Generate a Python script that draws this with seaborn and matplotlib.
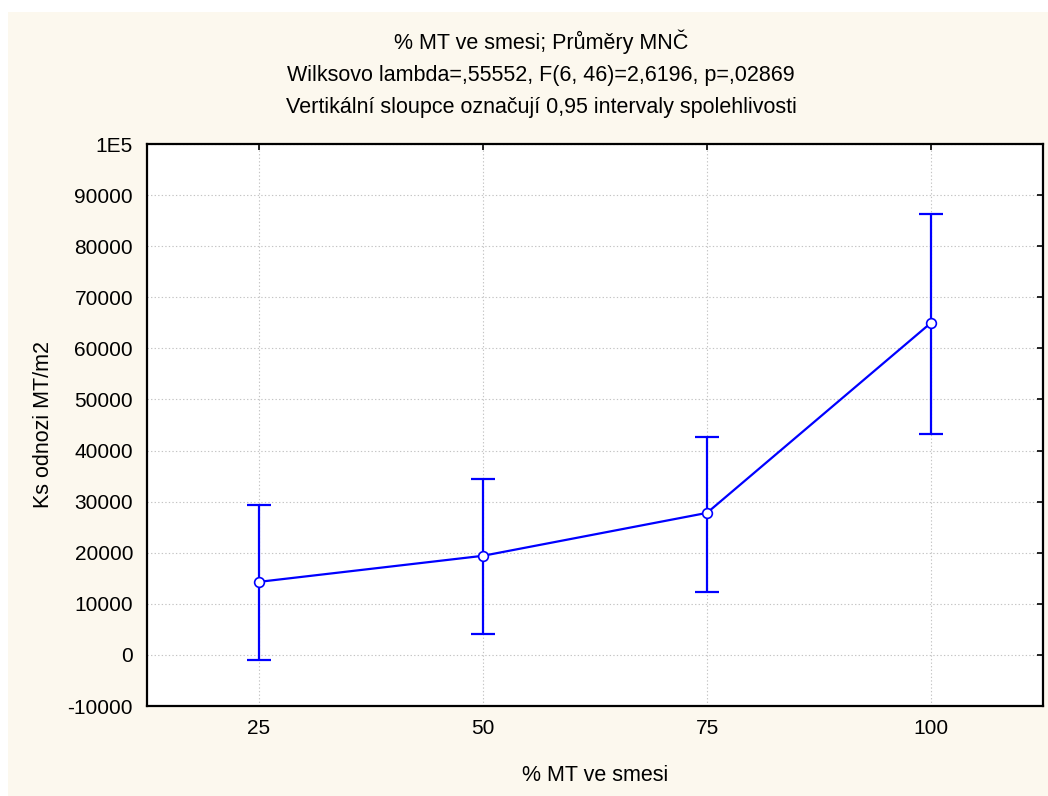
import matplotlib
matplotlib.use("Agg")
import matplotlib.pyplot as plt
import seaborn as sns
import pandas as pd
from matplotlib.patches import Rectangle

# Data
mt_pct = [25, 50, 75, 100]
means = [14300, 19400, 27800, 65000]
ci_lower = [-1000, 4100, 12300, 43300]
ci_upper = [29400, 34400, 42700, 86300]
y_ticks = [-10000, 0, 10000, 20000, 30000, 40000, 50000, 60000, 70000, 80000, 90000, 100000]
y_tick_labels = ["-10000", "0", "10000", "20000", "30000", "40000", "50000",
                 "60000", "70000", "80000", "90000", "1E5"]
title_lines = ["% MT ve smesi; Průměry MNČ",
               "Wilksovo lambda=,55552, F(6, 46)=2,6196, p=,02869",
               "Vertikální sloupce označují 0,95 intervaly spolehlivosti"]

sns.set_style("white")
plt.rcParams['font.family'] = ['Liberation Sans', 'DejaVu Sans']
plt.rcParams['text.color'] = 'black'
plt.rcParams['axes.labelcolor'] = 'black'

df = pd.DataFrame({"x": mt_pct, "y": means})

fig = plt.figure(figsize=(10.48, 7.96), dpi=100, facecolor="white")
fig.patches.append(Rectangle((8 / 1048, 0), 1 - 8 / 1048, (796 - 12) / 796,
                             transform=fig.transFigure, facecolor="#FCF8EE",
                             edgecolor="none", zorder=-10))
ax = fig.add_axes([147 / 1048, (796 - 706) / 796, (1043 - 147) / 1048, (706 - 144) / 796])
ax.set_facecolor("white")

yerr = [[m - l for m, l in zip(means, ci_lower)], [u - m for m, u in zip(means, ci_upper)]]
ax.errorbar(mt_pct, means, yerr=yerr, fmt="none", ecolor="#0000FF", elinewidth=1.6,
            capsize=8.5, capthick=1.6, zorder=3)
sns.lineplot(data=df, x="x", y="y", ax=ax, color="#0000FF", linewidth=1.6,
             marker="o", markersize=7, markerfacecolor="white",
             markeredgecolor="#0000FF", markeredgewidth=1.2, zorder=4)

ax.set_xlim(12.5, 112.5)
ax.set_ylim(-10000, 100000)
ax.set_xticks(mt_pct)
ax.set_xticklabels([str(v) for v in mt_pct])
ax.set_yticks(y_ticks)
ax.set_yticklabels(y_tick_labels)
ax.grid(True, color="#C4C4C4", linestyle=(0, (1.2, 2)), linewidth=0.8)
ax.set_axisbelow(True)
for s in ax.spines.values():
    s.set_visible(True)
    s.set_color("black")
    s.set_linewidth(1.6)
ax.tick_params(axis="both", direction="in", length=4, width=1.2, labelsize=15,
               top=True, right=True, colors="black", pad=9)
ax.tick_params(axis="y", pad=10)

ax.set_xlabel("% MT ve smesi", fontsize=15.5, labelpad=20, color="black")
ax.set_ylabel("Ks odnozi MT/m2", fontsize=15.5, labelpad=10, color="black")

for i, t in enumerate(title_lines):
    fig.text(541 / 1048, 1 - (42 + 33 * i) / 796, t, ha="center", va="center",
             fontsize=15.5, color="black")

fig.savefig("out.png", dpi=100, facecolor="white")
